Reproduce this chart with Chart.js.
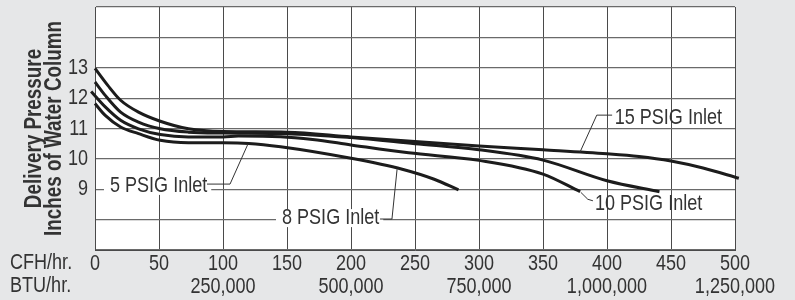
<!DOCTYPE html>
<html><head><meta charset="utf-8">
<script src="https://cdn.jsdelivr.net/npm/chart.js@4.4.1/dist/chart.umd.min.js"></script>
<style>html,body{margin:0;padding:0;background:#e6e7e8;}#wrap{position:relative;width:795px;height:300px;}</style>
</head><body><div id="wrap"><canvas id="c"></canvas></div>
<script>
const FONT = "'Liberation Sans', Arial, Helvetica, sans-serif";
const SX = 0.82; // horizontal condensing of all text (condensed type face look)

// axis ticks
const cfhTicks = [0, 50, 100, 150, 200, 250, 300, 350, 400, 450, 500];
const btuAt = [100, 200, 300, 400, 500];
const btuLabels = ['250,000', '500,000', '750,000', '1,000,000', '1,250,000'];
const yLabelTicks = [9, 10, 11, 12, 13];
const xRowNames = ['CFH/hr.', 'BTU/hr.'];
const yTitle = ['Delivery Pressure', 'Inches of Water Column'];

// series (CFH/hr. -> inches of water column)
const cfh15 = [0, 10, 20, 34, 51, 73, 100, 150, 200, 250, 300, 350, 400, 425, 450, 475, 503];
const wc15  = [12.98, 12.42, 11.93, 11.54, 11.24, 10.99, 10.9, 10.88, 10.72, 10.57, 10.42, 10.3, 10.17, 10.08, 9.93, 9.7, 9.36];
const cfh10 = [0, 8, 20, 34, 51, 73, 100, 150, 200, 250, 300, 350, 400, 441];
const wc10  = [12.53, 12.09, 11.54, 11.21, 10.99, 10.88, 10.85, 10.83, 10.7, 10.5, 10.3, 9.96, 9.28, 8.92];
const cfh8  = [-3, 8, 20, 34, 51, 73, 100, 112, 145, 170, 200, 245, 300, 350, 379];
const wc8   = [12.22, 11.71, 11.27, 10.99, 10.8, 10.72, 10.72, 10.75, 10.73, 10.64, 10.46, 10.2, 9.95, 9.5, 8.92];
const cfh5  = [0, 8, 20, 34, 51, 73, 100, 120, 145, 200, 240, 265, 284];
const wc5   = [11.82, 11.43, 11.05, 10.83, 10.61, 10.53, 10.53, 10.51, 10.4, 10.02, 9.66, 9.33, 8.98];

// callout labels (data coordinates)
const calloutText = ['15 PSIG Inlet', '5 PSIG Inlet', '8 PSIG Inlet', '10 PSIG Inlet'];
const calloutAt = [[406, 11.35], [11.7, 9.11], [146.1, 8.05], [390.6, 8.51]];
const calloutLeaders = [
  [[379, 10.23], [392, 11.44], [404, 11.44]],
  [[87.5, 9.17], [105.5, 9.17], [119.5, 10.49]],
  [[222.7, 8.02], [232, 8.02], [236, 9.66]],
  [[379.5, 8.9], [385, 8.67], [389, 8.62]]
];
const calloutBoxed = [false, true, true, false];

const pts = (xs, ys) => xs.map((x, i) => ({x, y: ys[i]}));
const lineStyle = {borderColor: '#1c1c1c', borderWidth: 3, pointRadius: 0, fill: false,
  cubicInterpolationMode: 'monotone', clip: 10};

const narrowPlugin = {
  id: 'narrow',
  beforeInit(chart) {
    const ctx = chart.ctx;
    const orig = ctx.fillText.bind(ctx);
    ctx.fillText = function (text, x, y, maxWidth) {
      ctx.save();
      ctx.translate(x, y);
      ctx.scale(SX, 1);
      if (maxWidth !== undefined) orig(text, 0, 0, maxWidth / SX); else orig(text, 0, 0);
      ctx.restore();
    };
  }
};

const bgPlugin = {
  id: 'bg',
  beforeDraw(chart) {
    const {ctx, chartArea: a} = chart;
    ctx.save();
    ctx.fillStyle = '#e6e7e8';
    ctx.fillRect(0, 0, chart.width, chart.height);
    ctx.fillStyle = '#ffffff';
    ctx.fillRect(a.left, a.top, a.right - a.left, a.bottom - a.top);
    ctx.restore();
  }
};

const calloutPlugin = {
  id: 'callouts',
  afterDatasetsDraw(chart) {
    const {ctx, scales: {x, y}, chartArea: a} = chart;
    ctx.save();
    ctx.font = '22px ' + FONT;
    ctx.textBaseline = 'middle';
    ctx.textAlign = 'left';
    calloutText.forEach((t, i) => {
      const px = x.getPixelForValue(calloutAt[i][0]);
      const py = y.getPixelForValue(calloutAt[i][1]);
      const w = ctx.measureText(t).width * SX;
      if (calloutBoxed[i]) {
        ctx.fillStyle = '#ffffff';
        ctx.fillRect(px - 6, py - 9, w + 10, 18);
      }
      ctx.strokeStyle = '#333';
      ctx.lineWidth = 1;
      ctx.beginPath();
      calloutLeaders[i].forEach((p, j) => {
        const lx = x.getPixelForValue(p[0]), ly = y.getPixelForValue(p[1]);
        if (j === 0) ctx.moveTo(lx, ly); else ctx.lineTo(lx, ly);
      });
      ctx.stroke();
      ctx.fillStyle = '#333';
      ctx.fillText(t, px, py);
    });
    const lh = 23;
    const y0 = a.bottom + 13;
    xRowNames.forEach((n, i) => ctx.fillText(n, 10, y0 + i * lh));
    ctx.restore();
  }
};

new Chart(document.getElementById('c'), {
  type: 'line',
  data: {
    datasets: [
      {label: '15 PSIG Inlet', data: pts(cfh15, wc15), ...lineStyle},
      {label: '10 PSIG Inlet', data: pts(cfh10, wc10), ...lineStyle},
      {label: '8 PSIG Inlet', data: pts(cfh8, wc8), ...lineStyle},
      {label: '5 PSIG Inlet', data: pts(cfh5, wc5), ...lineStyle}
    ]
  },
  options: {
    responsive: true,
    maintainAspectRatio: false,
    animation: false,
    layout: {padding: {top: 7, right: 60, left: 0, bottom: 0}},
    plugins: {legend: {display: false}, tooltip: {enabled: false}},
    scales: {
      x: {
        type: 'linear', min: 0, max: 500,
        afterBuildTicks(s) { s.ticks = cfhTicks.map(v => ({value: v})); },
        afterFit(s) { s.height = 50; s.paddingLeft = 0; s.paddingRight = 0; },
        grid: {color: '#4a4a4a', lineWidth: 1, drawTicks: false},
        border: {color: '#4a4a4a', width: 1},
        ticks: {
          autoSkip: false, maxRotation: 0, padding: 2, color: '#333',
          font: {family: FONT, size: 22, lineHeight: '23px'},
          callback(v) {
            const k = btuAt.indexOf(v);
            return [String(v), k >= 0 ? btuLabels[k] : ''];
          }
        }
      },
      y: {
        type: 'linear', min: 7, max: 15,
        afterBuildTicks(s) { const t = []; for (let v = 7; v <= 15; v++) t.push({value: v}); s.ticks = t; },
        afterFit(s) { s.width = 95; s.paddingTop = 0; s.paddingBottom = 0; },
        grid: {color: '#6a6a6a', lineWidth: 1.2, drawTicks: false},
        border: {color: '#4a4a4a', width: 1},
        title: {display: true, text: yTitle, color: '#333', padding: {top: 25, bottom: 0},
          font: {family: FONT, size: 23, weight: 'bold', lineHeight: '20px'}},
        ticks: {
          padding: 7, color: '#333',
          font: {family: FONT, size: 22},
          callback(v) { return yLabelTicks.includes(v) ? String(v) : ''; }
        }
      }
    }
  },
  plugins: [narrowPlugin, bgPlugin, calloutPlugin]
});
</script></body></html>
